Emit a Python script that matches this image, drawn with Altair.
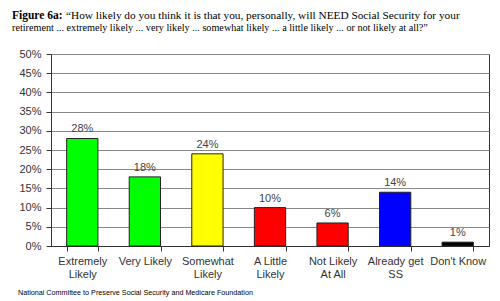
import altair as alt
import pandas as pd

categories = ["Extremely\nLikely", "Very Likely", "Somewhat\nLikely", "A Little\nLikely",
              "Not Likely\nAt All", "Already get\nSS", "Don't Know"]
values = [28, 18, 24, 10, 6, 14, 1]
colors = ["#00FF00", "#00FF00", "#FFFF00", "#FF0000", "#FF0000", "#0000FF", "#000000"]
y_ticks = [0, 5, 10, 15, 20, 25, 30, 35, 40, 45, 50]

title_bold = "Figure 6a:"
title_rest = "\u201cHow likely do you think it is that you, personally, will NEED Social Security for your"
title_line2 = "retirement ... extremely likely ...  very likely ... somewhat likely ... a little likely ... or not likely at all?\u201d"
footer = "National Committee to Preserve Social Security and Medicare Foundation"

df = pd.DataFrame({"cat": categories, "val": values, "color": colors,
                   "lab": [f"{v}%" for v in values]})

x = alt.X("cat:N", sort=None, title=None,
          scale=alt.Scale(paddingInner=0.5, paddingOuter=0.25),
          axis=alt.Axis(labelExpr="split(datum.label, '\\n')", labelAngle=0,
                        labelFont="Liberation Sans", labelFontSize=11, labelColor="#333",
                        labelLineHeight=13.5, labelPadding=4,
                        tickBand="extent", tickSize=5, tickColor="#333",
                        domainColor="#333", grid=False))
y = alt.Y("val:Q", title=None,
          scale=alt.Scale(domain=[0, 50], nice=False),
          axis=alt.Axis(values=y_ticks, labelExpr="datum.value + '%'", labelOverlap=False,
                        labelFont="Liberation Sans", labelFontSize=11, labelColor="#333",
                        tickSize=5, tickColor="#333", domainColor="#333",
                        gridColor="#888", gridOpacity=1, labelPadding=5))

bars = alt.Chart(df).mark_bar(stroke="#222", strokeWidth=1).encode(
    x=x, y=y, color=alt.Color("color:N", scale=None))

labels = alt.Chart(df).mark_text(font="Liberation Sans", fontSize=11, color="#444",
                                 baseline="bottom", dy=-4).encode(
    x=x, y=y, text="lab:N")

t1 = alt.Chart(pd.DataFrame({"t": [title_bold]})).mark_text(
    font="Liberation Serif", fontSize=11.5, fontWeight="bold", align="left",
    baseline="alphabetic", color="#000").encode(text="t:N", x=alt.value(-39), y=alt.value(-35))
t2 = alt.Chart(pd.DataFrame({"t": [title_rest]})).mark_text(
    font="Liberation Serif", fontSize=11.3, align="left",
    baseline="alphabetic", color="#000").encode(text="t:N", x=alt.value(15), y=alt.value(-35))
t3 = alt.Chart(pd.DataFrame({"t": [title_line2]})).mark_text(
    font="Liberation Serif", fontSize=10.2, align="left",
    baseline="alphabetic", color="#000").encode(text="t:N", x=alt.value(-39), y=alt.value(-23))
ft = alt.Chart(pd.DataFrame({"t": [footer]})).mark_text(
    font="Liberation Sans", fontSize=7.2, align="left",
    baseline="alphabetic", color="#000").encode(text="t:N", x=alt.value(-33), y=alt.value(241))

chart = alt.layer(bars, labels, t1, t2, t3, ft).properties(
    width=438, height=192,
    autosize=alt.AutoSizeParams(type="none"),
    padding={"left": 51, "top": 54, "right": 11, "bottom": 55},
    background="white",
).configure_view(stroke="#333", strokeWidth=1)

chart.save("out.html", embed_options={"renderer": "svg", "actions": False})
